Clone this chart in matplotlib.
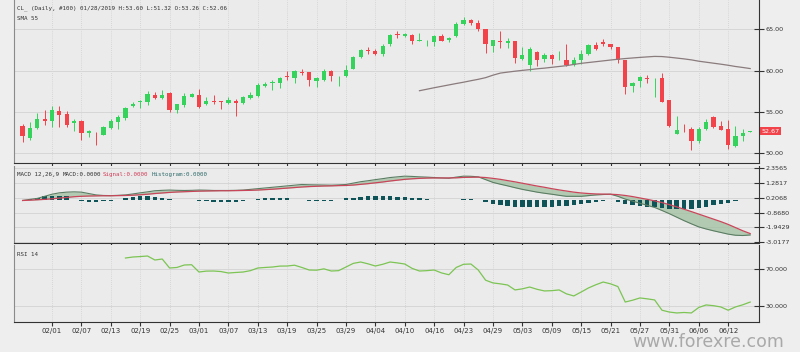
import numpy as np
import matplotlib.pyplot as plt
from matplotlib.transforms import blended_transform_factory

# ---- data ----
opens = [53.26, 51.91, 53.08, 54.13, 53.89, 55.14, 54.70, 53.61, 53.85, 52.44,
         52.44, 52.24, 53.08, 53.73, 54.30, 55.75, 56.24, 56.24, 57.09, 56.64,
         57.29, 55.26, 55.83, 56.84, 57.09, 55.95, 56.32, 56.24, 56.11, 56.36,
         56.11, 56.64, 56.88, 58.13, 58.45, 58.49, 59.29, 59.10, 59.87, 59.79,
         58.70, 58.90, 59.91, 59.30, 59.38, 60.19, 61.65, 62.54, 62.38, 61.97,
         63.26, 64.39, 64.19, 64.35, 63.62, 63.42, 63.42, 64.23, 63.74, 64.23,
         65.65, 66.13, 65.73, 65.07, 62.98, 63.54, 63.30, 63.62, 61.40, 60.64,
         62.21, 61.36, 61.93, 61.60, 61.28, 60.72, 61.28, 61.97, 63.10, 63.42,
         63.18, 62.86, 61.28, 58.09, 58.78, 59.15, 59.07, 59.15, 56.40, 52.28,
         52.84, 52.92, 51.51, 53.00, 54.42, 53.28, 53.00, 50.86, 52.12, 52.60]
highs = [53.60, 53.77, 54.86, 55.18, 55.67, 55.67, 55.06, 54.17, 54.05, 52.88,
         52.56, 53.36, 54.13, 54.62, 55.59, 56.19, 56.48, 57.49, 57.41, 57.70,
         57.37, 55.91, 57.29, 57.33, 57.74, 56.84, 57.09, 56.28, 56.84, 56.52,
         56.88, 57.45, 58.50, 58.66, 58.82, 59.25, 59.90, 60.11, 60.19, 59.87,
         59.21, 60.19, 60.03, 59.34, 60.67, 61.81, 62.58, 62.86, 62.58, 63.27,
         64.47, 64.80, 64.55, 64.39, 64.55, 63.66, 64.35, 64.47, 64.07, 65.85,
         66.54, 66.25, 66.13, 65.07, 63.66, 64.75, 63.95, 63.62, 62.86, 62.86,
         62.37, 62.13, 62.05, 62.37, 63.26, 61.64, 62.46, 63.26, 63.50, 63.83,
         63.26, 62.86, 61.28, 58.62, 59.31, 59.47, 59.11, 59.72, 56.40, 54.46,
         53.56, 53.24, 53.16, 54.13, 54.54, 53.89, 53.97, 53.32, 52.96, 52.72]
lows = [51.32, 51.63, 52.92, 53.40, 53.24, 53.16, 53.24, 52.68, 51.63, 51.95,
        51.06, 52.16, 52.92, 52.92, 54.05, 55.59, 55.51, 55.79, 56.52, 56.52,
        54.94, 54.86, 55.59, 56.76, 55.51, 55.79, 56.00, 55.35, 56.00, 54.46,
        56.00, 56.60, 56.80, 58.01, 57.60, 57.85, 58.90, 58.50, 59.50, 58.17,
        58.01, 58.74, 58.74, 58.09, 59.21, 60.15, 61.57, 61.97, 61.85, 61.77,
        62.94, 63.95, 64.07, 63.18, 63.58, 62.94, 62.94, 63.54, 63.46, 64.07,
        65.57, 65.57, 64.75, 62.13, 62.30, 62.78, 62.74, 60.91, 61.24, 59.95,
        60.52, 61.04, 60.76, 61.32, 60.52, 60.60, 60.84, 61.85, 62.46, 62.94,
        62.66, 60.96, 57.20, 57.41, 58.01, 58.54, 56.80, 56.23, 53.24, 52.28,
        52.56, 50.42, 51.19, 52.76, 53.08, 52.76, 50.54, 50.74, 51.55, 52.56]
closes = [52.06, 53.12, 54.17, 53.85, 55.18, 54.66, 53.48, 53.85, 52.44, 52.68,
          52.40, 53.16, 53.85, 54.42, 55.51, 55.95, 56.28, 57.21, 56.72, 57.09,
          55.18, 55.91, 56.88, 57.21, 55.59, 56.36, 56.15, 56.20, 56.44, 56.03,
          56.80, 57.00, 58.29, 58.41, 58.57, 59.13, 59.25, 59.91, 59.66, 58.90,
          59.05, 59.91, 59.30, 59.34, 60.11, 61.65, 62.54, 62.34, 61.97, 63.03,
          64.35, 64.27, 64.39, 63.58, 63.74, 63.50, 64.23, 63.58, 63.99, 65.69,
          66.13, 65.73, 64.99, 63.18, 63.66, 63.42, 63.62, 61.52, 61.93, 62.62,
          61.32, 61.93, 61.44, 61.68, 60.72, 61.28, 62.05, 63.10, 62.66, 63.26,
          62.90, 61.24, 58.01, 58.50, 59.23, 59.03, 59.11, 56.23, 53.33, 52.76,
          52.76, 51.55, 53.00, 53.81, 53.16, 52.88, 51.06, 52.12, 52.48, 52.67]

sma_first = 54
sma55 = [57.57, 57.75, 57.93, 58.10, 58.27, 58.44, 58.60, 58.78, 58.95, 59.15,
         59.45, 59.70, 59.82, 59.93, 60.03, 60.12, 60.22, 60.30, 60.40, 60.50,
         60.60, 60.75, 60.88, 60.98, 61.08, 61.18, 61.28, 61.38, 61.46, 61.53,
         61.60, 61.66, 61.72, 61.70, 61.62, 61.52, 61.42, 61.30, 61.14, 61.02,
         60.90, 60.78, 60.65, 60.50, 60.38, 60.25]

macd = [0.00, 0.08, 0.15, 0.30, 0.45, 0.55, 0.60, 0.62, 0.60, 0.50,
        0.40, 0.36, 0.35, 0.37, 0.40, 0.47, 0.55, 0.62, 0.70, 0.73,
        0.75, 0.73, 0.72, 0.73, 0.75, 0.74, 0.72, 0.72, 0.72, 0.73,
        0.75, 0.80, 0.85, 0.90, 0.95, 1.00, 1.05, 1.10, 1.15, 1.13,
        1.12, 1.11, 1.10, 1.12, 1.15, 1.25, 1.35, 1.42, 1.50, 1.57,
        1.65, 1.70, 1.75, 1.73, 1.70, 1.68, 1.65, 1.62, 1.60, 1.68,
        1.75, 1.74, 1.70, 1.50, 1.30, 1.17, 1.05, 0.92, 0.80, 0.70,
        0.60, 0.52, 0.45, 0.37, 0.30, 0.30, 0.30, 0.35, 0.40, 0.43,
        0.45, 0.30, 0.10, -0.05, -0.20, -0.35, -0.50, -0.72, -0.95, -1.20,
        -1.45, -1.68, -1.90, -2.05, -2.18, -2.30, -2.42, -2.50, -2.52, -2.48]
signal = [0.00, 0.02, 0.05, 0.08, 0.12, 0.17, 0.22, 0.27, 0.30, 0.32,
          0.33, 0.34, 0.34, 0.35, 0.36, 0.38, 0.41, 0.45, 0.50, 0.54,
          0.58, 0.61, 0.63, 0.65, 0.67, 0.68, 0.69, 0.70, 0.70, 0.71,
          0.72, 0.73, 0.75, 0.78, 0.81, 0.85, 0.89, 0.93, 0.97, 1.00,
          1.02, 1.04, 1.05, 1.07, 1.08, 1.11, 1.16, 1.21, 1.27, 1.33,
          1.40, 1.46, 1.52, 1.56, 1.59, 1.61, 1.62, 1.62, 1.62, 1.63,
          1.66, 1.67, 1.68, 1.65, 1.59, 1.52, 1.43, 1.34, 1.24, 1.14,
          1.04, 0.95, 0.85, 0.76, 0.68, 0.60, 0.54, 0.50, 0.47, 0.46,
          0.45, 0.42, 0.36, 0.28, 0.18, 0.08, -0.03, -0.15, -0.30, -0.46,
          -0.63, -0.80, -0.98, -1.16, -1.34, -1.52, -1.72, -1.95, -2.18, -2.38]
hist = [0.00, 0.10, 0.20, 0.30, 0.35, 0.35, 0.30, 0.05, -0.05, -0.10,
        -0.10, -0.05, -0.05, 0.05, 0.15, 0.25, 0.30, 0.30, 0.25, 0.15,
        0.10, 0.05, 0.05, 0.00, -0.05, -0.05, -0.10, -0.10, -0.10, -0.10,
        -0.05, 0.05, 0.10, 0.15, 0.20, 0.20, 0.15, 0.05, 0.00, -0.05,
        -0.05, -0.05, -0.05, 0.05, 0.15, 0.20, 0.25, 0.30, 0.30, 0.30,
        0.30, 0.28, 0.25, 0.20, 0.15, 0.10, 0.05, 0.02, 0.00, 0.05,
        0.10, 0.08, 0.05, -0.12, -0.25, -0.35, -0.40, -0.45, -0.50, -0.50,
        -0.50, -0.48, -0.45, -0.42, -0.38, -0.32, -0.25, -0.16, -0.08, -0.03,
        0.00, -0.10, -0.25, -0.35, -0.42, -0.46, -0.50, -0.55, -0.58, -0.60,
        -0.62, -0.60, -0.55, -0.45, -0.35, -0.25, -0.15, -0.05, 0.02, 0.05]

rsi_first = 14
rsi14 = [82.4, 83.5, 84.0, 84.6, 80.2, 81.3, 71.4, 72.0, 74.7, 75.0,
         67.0, 68.0, 68.1, 67.5, 65.9, 66.5, 67.0, 68.5, 71.4, 72.0,
         72.5, 73.5, 73.6, 74.5, 72.0, 69.2, 69.0, 70.5, 68.1, 68.5,
         72.5, 76.5, 78.0, 76.0, 73.6, 75.5, 78.0, 77.0, 75.8, 71.0,
         68.1, 68.5, 69.2, 66.0, 64.0, 72.0, 75.5, 75.8, 69.2, 58.0,
         55.0, 54.0, 52.7, 47.3, 48.5, 50.5, 48.0, 46.2, 46.5, 47.3,
         43.0, 40.7, 45.0, 49.5, 53.0, 56.0, 54.0, 51.0, 34.0, 36.0,
         38.5, 37.5, 36.3, 25.0, 23.0, 22.0, 22.5, 22.0, 28.0, 30.8,
         30.0, 28.6, 25.0, 28.6, 31.0, 34.0]

date_labels = ['02/01', '02/07', '02/13', '02/19', '02/25', '03/01', '03/07', '03/13',
               '03/19', '03/25', '03/29', '04/04', '04/10', '04/16', '04/23', '04/29',
               '05/03', '05/09', '05/15', '05/21', '05/27', '05/31', '06/06', '06/12']

o = np.array(opens)
h = np.array(highs)
l = np.array(lows)
c = np.array(closes)
x = np.arange(len(c))
tick_x = x[4::4][:len(date_labels)]

W, H = 800, 352
fig = plt.figure(figsize=(W / 100, H / 100), dpi=100, facecolor='#eeeeee')


def panel(top, bottom):
    a = fig.add_axes([14 / W, 1 - bottom / H, 745 / W, (bottom - top) / H])
    a.set_facecolor('#ebebeb')
    a.set_xlim(-1.17, 100.2)
    a.yaxis.tick_right()
    a.tick_params(axis='y', direction='inout', length=7, width=0.8, colors='#333333',
                  labelsize=4.6, pad=1)
    a.tick_params(axis='x', direction='out', length=3, width=0.8, colors='#333333')
    a.set_xticks(tick_x)
    a.set_xticklabels([])
    a.grid(axis='x', color='#cfcfcf', lw=0.6, ls=(0, (1, 1.5)))
    a.grid(axis='y', color='#d6d6d6', lw=0.7)
    a.set_axisbelow(True)
    a.spines['top'].set_visible(False)
    a.spines['left'].set_color('#8a8a8a')
    a.spines['right'].set_color('#333333')
    a.spines['bottom'].set_color('#333333')
    for s in a.spines.values():
        s.set_linewidth(0.8)
    return a


# ---- price panel ----
ax1 = panel(0, 163)
ax1.set_ylim(48.83, 68.54)
ax1.set_yticks([50, 55, 60, 65])
ax1.set_yticklabels(['50.00', '55.00', '60.00', '65.00'])
up = c >= o
cols = np.where(up, '#35d35c', '#f2434b')
ax1.vlines(x, l, h, colors=cols, lw=0.7, zorder=2)
body = np.maximum(np.abs(c - o), 0.07)
ax1.bar(x, body, bottom=np.minimum(o, c), width=0.58, color=cols, zorder=3)
ax1.plot(np.arange(sma_first, sma_first + len(sma55)), sma55, color='#8a7b7d', lw=0.9, zorder=4)
tr = blended_transform_factory(ax1.transAxes, ax1.transData)
ax1.text(1.003, c[-1], '%.2f' % c[-1], transform=tr, fontsize=4.6, color='white',
         va='center', ha='left', bbox=dict(boxstyle='square,pad=0.25', fc='#f2434b', ec='none'))
fig.text(17 / W, 1 - 8 / H, 'CL_ (Daily, #100) 01/28/2019 H:53.60 L:51.32 O:53.26 C:52.06',
         family='DejaVu Sans Mono', fontsize=4.2, color='#333333', va='center')
fig.text(17 / W, 1 - 18 / H, 'SMA 55', family='DejaVu Sans Mono', fontsize=4.2,
         color='#333333', va='center')

# ---- MACD panel ----
ax2 = panel(166, 243.3)
ax2.set_ylim(-3.08, 2.48)
mt = np.linspace(-3.0177, 2.3565, 6)
ax2.set_yticks(mt)
ax2.set_yticklabels(['%.4f' % v for v in mt])
m = np.array(macd)
s = np.array(signal)
ax2.fill_between(x, m, s, color='#9fbf9f', alpha=0.75, lw=0, zorder=2)
ax2.bar(x, hist, width=0.6, color='#0e5358', zorder=3)
ax2.plot(x, m, color='#5b7d63', lw=0.8, zorder=4)
ax2.plot(x, s, color='#c9465a', lw=0.9, zorder=5)
fig.text(17 / W, 1 - 174 / H, 'MACD 12,26,9', family='DejaVu Sans Mono', fontsize=4.2,
         color='#333333', va='center')
fig.text(63 / W, 1 - 174 / H, 'MACD:0.0000', family='DejaVu Sans Mono', fontsize=4.2,
         color='#333333', va='center')
fig.text(103 / W, 1 - 174 / H, 'Signal:0.0000', family='DejaVu Sans Mono', fontsize=4.2,
         color='#d0405a', va='center')
fig.text(152 / W, 1 - 174 / H, 'Histogram:0.0000', family='DejaVu Sans Mono', fontsize=4.2,
         color='#2f6b6b', va='center')

# ---- RSI panel ----
ax3 = panel(245, 321.5)
ax3.set_ylim(12.6, 96.7)
ax3.set_yticks([30, 70])
ax3.set_yticklabels(['30.000', '70.000'])
ax3.plot(np.arange(rsi_first, rsi_first + len(rsi14)), rsi14, color='#7cc454', lw=0.9)
ax3.set_xticklabels(date_labels, fontsize=5, color='#333333')
ax3.tick_params(axis='x', pad=1.5)
fig.text(17 / W, 1 - 255 / H, 'RSI 14', family='DejaVu Sans Mono', fontsize=4.2,
         color='#333333', va='center')

fig.text(708 / W, 1 - 342 / H, 'www.forexre.com', fontsize=12.5, color='#a9a9a9',
         ha='center', va='center')

fig.savefig('out.png', dpi=100, facecolor=fig.get_facecolor())
